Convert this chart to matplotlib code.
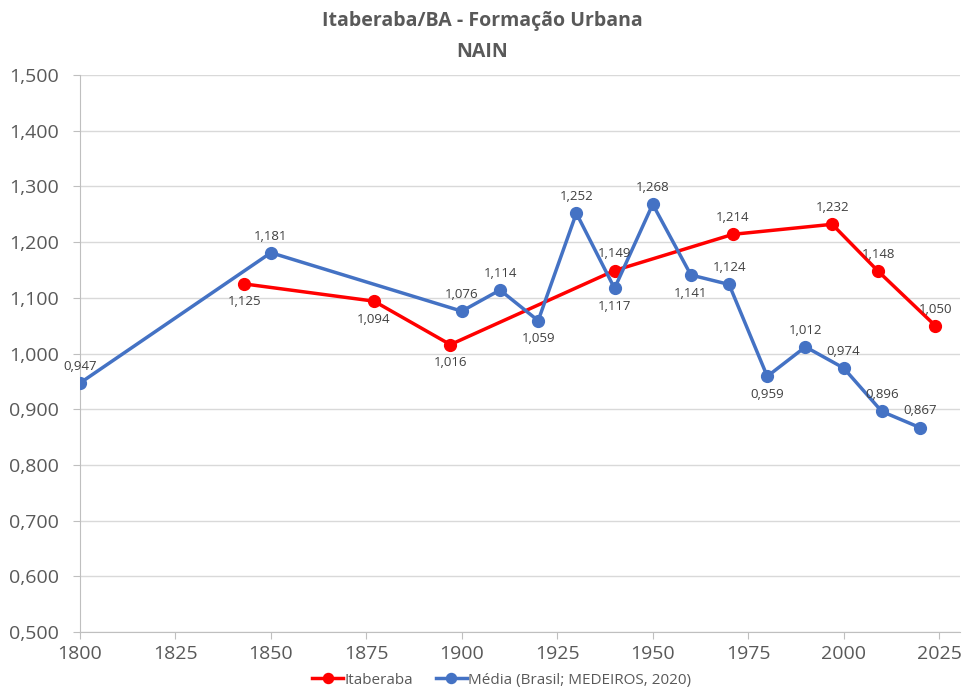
import matplotlib.pyplot as plt
from matplotlib.ticker import FuncFormatter

plt.rcParams['font.family'] = ['Open Sans', 'DejaVu Sans']

# Itaberaba series
ita_anos = [1843, 1877, 1897, 1940, 1971, 1997, 2009, 2024]
ita_vals = [1.125, 1.094, 1.016, 1.149, 1.214, 1.232, 1.148, 1.050]
ita_pos = ['below', 'below', 'below', 'above', 'above', 'above', 'above', 'above']

# Média Brasil series
med_anos = [1800, 1850, 1900, 1910, 1920, 1930, 1940, 1950, 1960, 1970,
            1980, 1990, 2000, 2010, 2020]
med_vals = [0.947, 1.181, 1.076, 1.114, 1.059, 1.252, 1.117, 1.268, 1.141,
            1.124, 0.959, 1.012, 0.974, 0.896, 0.867]
med_pos = ['above', 'above', 'above', 'above', 'below', 'above', 'below',
           'above', 'below', 'above', 'below', 'above', 'above', 'above', 'above']

yticks = [0.5, 0.6, 0.7, 0.8, 0.9, 1.0, 1.1, 1.2, 1.3, 1.4, 1.5]
xticks = [1800, 1825, 1850, 1875, 1900, 1925, 1950, 1975, 2000, 2025]

def fmt(v):
    return f'{v:.3f}'.replace('.', ',')

fig = plt.figure(figsize=(9.65, 6.89), dpi=100)
ax = fig.add_axes([0.0829, 0.0827, 0.912, 0.8084])

red = '#FF0000'
blue = '#4472C4'
ax.plot(ita_anos, ita_vals, color=red, lw=2.5, marker='o', ms=8.5,
        label='Itaberaba', zorder=3)
ax.plot(med_anos, med_vals, color=blue, lw=2.5, marker='o', ms=8.5,
        label='Média (Brasil; MEDEIROS, 2020)', zorder=3)

for xs, ys, ps in [(ita_anos, ita_vals, ita_pos), (med_anos, med_vals, med_pos)]:
    for x, y, p in zip(xs, ys, ps):
        dy = 12 if p == 'above' else -13
        ax.annotate(fmt(y), (x, y), xytext=(0, dy), textcoords='offset points',
                    ha='center', va='center', fontsize=9.5, color='#404040')

ax.set_xlim(1800, 2030.5)
ax.set_ylim(0.5, 1.5)
ax.set_xticks(xticks)
ax.set_yticks(yticks)
ax.yaxis.set_major_formatter(FuncFormatter(lambda v, _: fmt(v)))
ax.tick_params(axis='both', labelsize=14, colors='#595959', length=5,
               color='#BFBFBF')
ax.tick_params(axis='y', pad=10)
ax.tick_params(axis='x', pad=4)
ax.grid(axis='y', color='#D9D9D9', lw=1)
ax.set_axisbelow(True)
for s in ['top', 'right']:
    ax.spines[s].set_visible(False)
for s in ['left', 'bottom']:
    ax.spines[s].set_color('#BFBFBF')

fig.text(0.5, 0.97, 'Itaberaba/BA - Formação Urbana', ha='center', va='center',
         fontsize=14, fontweight='bold', color='#595959')
fig.text(0.5, 0.925, 'NAIN', ha='center', va='center',
         fontsize=14, fontweight='bold', color='#595959')

fig.legend(loc='center', bbox_to_anchor=(0.52, 0.013), ncol=2, frameon=False,
           fontsize=11, handlelength=2.0, handletextpad=0.1, columnspacing=1.5,
           markerscale=0.85, labelcolor='#595959')

fig.savefig('out.png', dpi=100)
